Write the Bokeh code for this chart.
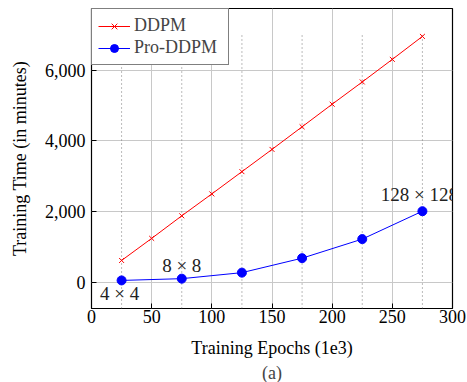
from bokeh.plotting import figure
from bokeh.models import (Range1d, NumeralTickFormatter, FixedTicker, Legend, LegendItem,
                          ColumnDataSource, Title)
from bokeh.core.properties import value
from bokeh.embed import file_html
from bokeh.resources import INLINE

# ---- data ----
ddpm_epochs = [25, 50, 75, 100, 125, 150, 175, 200, 225, 250, 275]
ddpm_time = [615, 1240, 1880, 2500, 3130, 3760, 4400, 5040, 5670, 6310, 6960]
pro_epochs = [25, 75, 125, 175, 225, 275]
pro_time = [50, 100, 270, 680, 1220, 2010]
res_labels = ["4 \u00d7 4", "8 \u00d7 8", "128 \u00d7 128"]
res_index = [0, 1, 5]
x_ticks = [0, 50, 100, 150, 200, 250, 300]
y_ticks = [0, 2000, 4000, 6000]

FONT = "Liberation Serif"

p = figure(width=467, height=382, output_backend="svg", toolbar_location=None,
           x_range=Range1d(0, 300), y_range=Range1d(-745, 7750),
           min_border_left=91, min_border_right=15, min_border_top=8, min_border_bottom=73)

p.background_fill_color = "white"
p.border_fill_color = "white"
p.outline_line_color = "black"
p.outline_line_width = 1.2

# grids
p.xgrid.ticker = FixedTicker(ticks=x_ticks)
p.ygrid.ticker = FixedTicker(ticks=y_ticks)
for g in (p.xgrid, p.ygrid):
    g.grid_line_color = "#c8c8c8"
    g.grid_line_width = 1

# axes
p.xaxis.ticker = FixedTicker(ticks=x_ticks)
p.yaxis.ticker = FixedTicker(ticks=y_ticks)
p.yaxis.formatter = NumeralTickFormatter(format="0,0")
for ax in (p.xaxis, p.yaxis):
    ax.axis_line_color = None
    ax.major_tick_in = 5
    ax.major_tick_out = 0
    ax.major_tick_line_color = "black"
    ax.minor_tick_line_color = None
    ax.major_label_text_font = FONT
    ax.major_label_text_font_size = "18px"
    ax.major_label_text_color = "black"
    ax.axis_label_text_font = FONT
    ax.axis_label_text_font_size = "18px"
    ax.axis_label_text_font_style = "normal"
    ax.axis_label_text_color = "black"
p.xaxis.axis_label = "Training Epochs (1e3)"
p.yaxis.axis_label = "Training Time (in minutes)"
p.xaxis.major_label_standoff = 1
p.xaxis.axis_label_standoff = 12
p.yaxis.major_label_standoff = 6
p.yaxis.axis_label_standoff = 12

# dotted vertical guides at Pro-DDPM epochs
p.segment(x0=pro_epochs, y0=[-745] * len(pro_epochs), x1=pro_epochs, y1=[7040] * len(pro_epochs),
          line_color="#777777", line_dash="1 3", line_width=1)

# series
r1 = p.line(ddpm_epochs, ddpm_time, line_color="red", line_width=1)
m1 = p.scatter(ddpm_epochs, ddpm_time, marker="x", size=7, line_color="red", line_width=1)
r2 = p.line(pro_epochs, pro_time, line_color="blue", line_width=1)
m2 = p.scatter(pro_epochs, pro_time, marker="circle", size=9, fill_color="blue", line_color="blue")

# resolution annotations
lab_src = ColumnDataSource(dict(
    x=[pro_epochs[i] for i in res_index],
    y=[pro_time[i] for i in res_index],
    text=res_labels,
    dx=[-2, 0, -3],
    dy=[13, -13, -17],
))
p.text(x="x", y="y", text="text", x_offset="dx", y_offset="dy", source=lab_src,
       text_font=value(FONT), text_font_size="19px", text_align="center",
       text_baseline="middle", text_color="#222222")

legend = Legend(items=[LegendItem(label="DDPM", renderers=[r1, m1]),
                       LegendItem(label="Pro-DDPM", renderers=[r2, m2])],
                location="top_left", margin=0, padding=6, spacing=1,
                label_text_font=FONT, label_text_font_size="18px",
                label_height=20, glyph_height=20, label_width=88,
                glyph_width=32, label_standoff=4,
                border_line_color="black", border_line_width=1.2,
                background_fill_alpha=1)
p.add_layout(legend)

cap = Title(text="(a)", align="center", text_font=FONT, text_font_size="18px",
            text_font_style="normal", standoff=0)
p.add_layout(cap, "below")

open("out.html", "w").write(file_html(p, INLINE))
